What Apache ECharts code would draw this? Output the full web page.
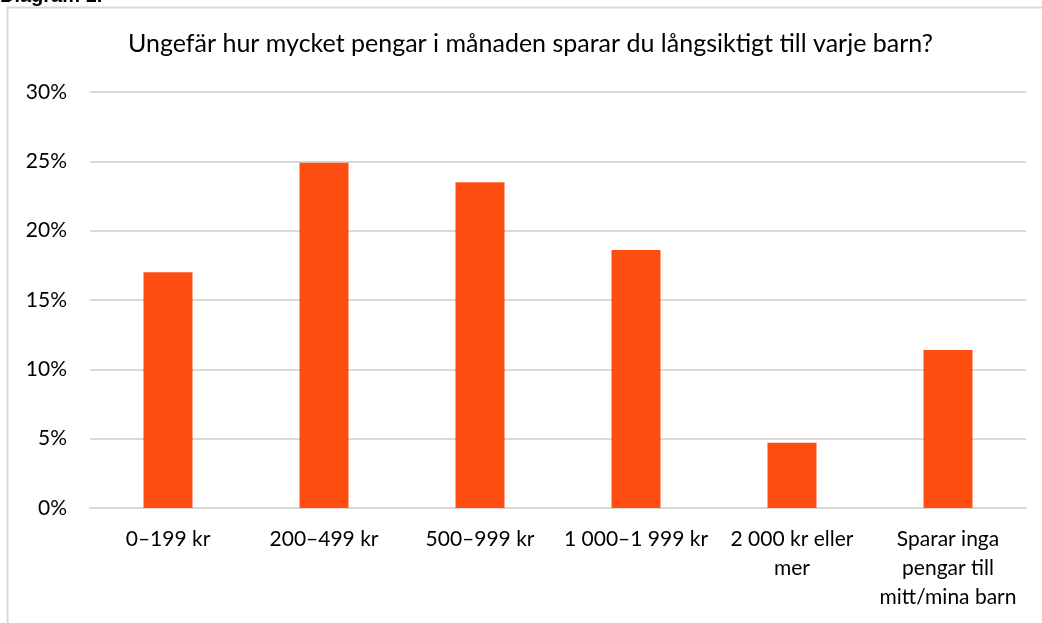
<!doctype html>
<html lang="sv">
<head>
    <meta charset="UTF-8">
    <title>Diagram 1</title>
    <script src="https://cdn.jsdelivr.net/npm/echarts@6/dist/echarts.min.js"></script>
    <style>
        html, body { margin: 0; padding: 0; background: #fff; }
    </style>
</head>
<body>
<div id="main" style="width:1042px; height:623px;"></div>

<script>
    // kategorier och andelar (%)
    var categories = ['0–199 kr', '200–499 kr', '500–999 kr', '1 000–1 999 kr', '2 000 kr eller\nmer', 'Sparar inga\npengar till\nmitt/mina barn'];
    var shares = [17.0, 24.9, 23.5, 18.6, 4.7, 11.4];
    var yTicks = [0, 5, 10, 15, 20, 25, 30];

    var myChart = echarts.init(document.getElementById('main'));
    myChart.setOption({
        animation: false,
        textStyle: { fontFamily: 'Lato' },
        title: {
            text: 'Ungefär hur mycket pengar i månaden sparar du långsiktigt till varje barn?',
            left: 128,
            top: 31,
            padding: 0,
            textStyle: { fontSize: 25, fontWeight: 'normal', color: '#000', fontFamily: 'Lato' }
        },
        graphic: [
            {
                type: 'rect',
                shape: { x: 7.5, y: 7.5, width: 1100, height: 700 },
                style: { fill: 'none', stroke: '#d9d9d9', lineWidth: 2 }
            },
            {
                type: 'text',
                left: 0,
                top: -14,
                style: { text: 'Diagram 1.', font: 'bold 20px Liberation Sans', fill: '#000' }
            }
        ],
        grid: { left: 90, right: 16, top: 92, bottom: 115 },
        xAxis: {
            type: 'category',
            data: categories,
            axisTick: { show: false },
            axisLine: { lineStyle: { color: '#d9d9d9', width: 2 } },
            axisLabel: { color: '#000', fontSize: 21, margin: 17, lineHeight: 29, interval: 0 }
        },
        yAxis: {
            type: 'value',
            min: yTicks[0],
            max: yTicks[yTicks.length - 1],
            interval: 5,
            axisLine: { show: false },
            axisTick: { show: false },
            splitLine: { lineStyle: { color: '#d9d9d9', width: 2 } },
            axisLabel: { color: '#000', fontSize: 21, margin: 23, formatter: '{value}%' }
        },
        series: [
            {
                type: 'bar',
                data: shares,
                barWidth: 49,
                itemStyle: { color: '#ff4e12' }
            }
        ]
    });
</script>
</body>
</html>
